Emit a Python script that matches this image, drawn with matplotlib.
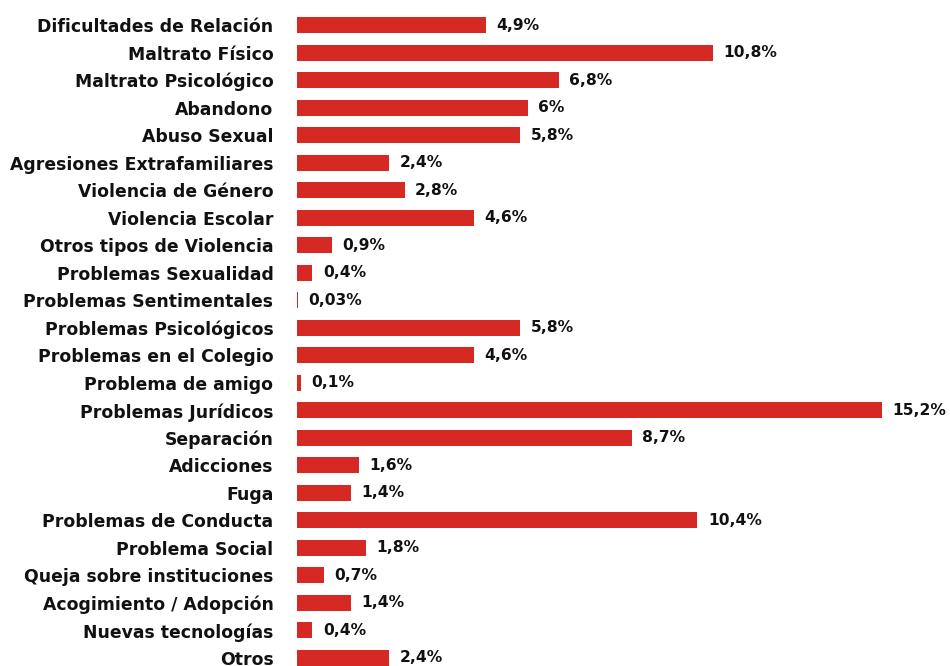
import matplotlib
matplotlib.use("Agg")
import matplotlib.pyplot as plt

categories = [
    "Dificultades de Relación", "Maltrato Físico", "Maltrato Psicológico", "Abandono",
    "Abuso Sexual", "Agresiones Extrafamiliares", "Violencia de Género", "Violencia Escolar",
    "Otros tipos de Violencia", "Problemas Sexualidad", "Problemas Sentimentales",
    "Problemas Psicológicos", "Problemas en el Colegio", "Problema de amigo",
    "Problemas Jurídicos", "Separación", "Adicciones", "Fuga", "Problemas de Conducta",
    "Problema Social", "Queja sobre instituciones", "Acogimiento / Adopción",
    "Nuevas tecnologías", "Otros",
]
values = [4.9, 10.8, 6.8, 6, 5.8, 2.4, 2.8, 4.6, 0.9, 0.4, 0.03, 5.8, 4.6, 0.1,
          15.2, 8.7, 1.6, 1.4, 10.4, 1.8, 0.7, 1.4, 0.4, 2.4]
labels = ["4,9%", "10,8%", "6,8%", "6%", "5,8%", "2,4%", "2,8%", "4,6%", "0,9%", "0,4%",
          "0,03%", "5,8%", "4,6%", "0,1%", "15,2%", "8,7%", "1,6%", "1,4%", "10,4%",
          "1,8%", "0,7%", "1,4%", "0,4%", "2,4%"]

FONT = ["DejaVu Sans"]
W, H = 950, 666
fig = plt.figure(figsize=(W / 100, H / 100), dpi=100)
left = 297 / W
row = 27.52
top_px = 25 - row / 2
ax_h = row * len(categories)
ax = fig.add_axes([left, 1 - (top_px + ax_h) / H, 1 - left, ax_h / H])

y = list(range(len(categories)))
ax.barh(y, values, height=0.58, color="#D62923", zorder=2)
ax.set_xlim(0, (W - 297) / 38.5)
ax.set_ylim(len(categories) - 0.5, -0.5)
ax.set_yticks(y)
ax.set_yticklabels(categories, fontsize=12.4, fontweight="bold", family=FONT, color="#111111")
ax.tick_params(axis="y", length=0, pad=17)
ax.set_xticks([])
for s in ax.spines.values():
    s.set_visible(False)

for yi, v, lab in zip(y, values, labels):
    ax.annotate(lab, (v, yi), xytext=(7.5, 0), textcoords="offset points",
                va="center", ha="left", fontsize=11.2, fontweight="bold",
                family=FONT, color="#111111", clip_on=False)

fig.savefig("out.png", dpi=100)
